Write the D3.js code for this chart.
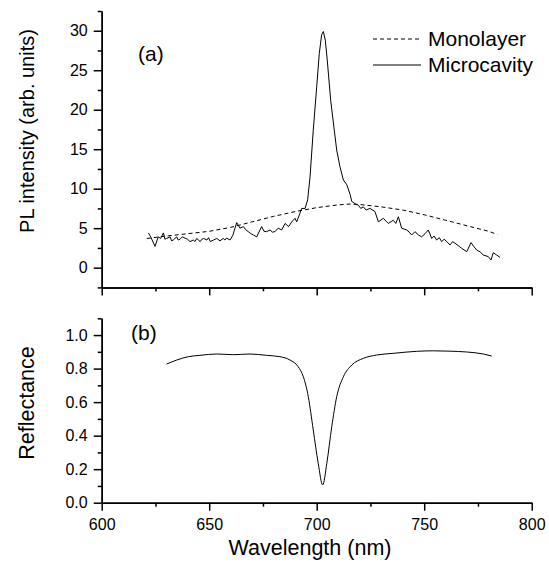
<!DOCTYPE html>
<html>
<head>
<meta charset="utf-8">
<script src="https://cdn.jsdelivr.net/npm/d3@7"></script>
<style>
  body { margin: 0; background: #fff; }
  svg { font-family: "Liberation Sans", Arial, sans-serif; }
  .axis path, .axis line { stroke: #000; stroke-width: 1.5; }
  .axis text { font-size: 16px; fill: #000; font-family: "Liberation Sans", Arial, sans-serif; }
</style>
</head>
<body>
<div id="chart"></div>
<script>

// data

const xTicks = [600, 650, 700, 750, 800]
const xMinorTicks = [625, 675, 725, 775]
const plTicks = [0, 5, 10, 15, 20, 25, 30]
const plMinorTicks = [-2.5, 2.5, 7.5, 12.5, 17.5, 22.5, 27.5, 32.5]
const rTicks = [0.0, 0.2, 0.4, 0.6, 0.8, 1.0]
const rMinorTicks = [0.1, 0.3, 0.5, 0.7, 0.9, 1.1]

const monoWl = [621, 630, 640, 650, 660, 670, 680, 690, 700, 710, 715, 720, 730, 740, 750, 760, 770, 780, 784]
const monoPL = [3.7, 4.0, 4.3, 4.6, 5.1, 5.8, 6.5, 7.1, 7.6, 7.95, 8.05, 8.0, 7.7, 7.3, 6.7, 6.0, 5.3, 4.6, 4.2]

const cavWl = [621.7, 622.8, 624.8, 626.3, 627.4, 628.7, 629.4, 630.2, 631.8, 632.5, 633.3, 634.9, 635.6, 636.4, 637.5,
  638.7, 639.9, 641.1, 642.6, 643.4, 644.2, 645.8, 646.6, 647.4, 648.9, 649.7, 650.5, 652, 653.5, 655, 656.5, 657.3,
  658.1, 659.7, 661, 662, 662.8, 664.3, 665.9, 667, 668.2, 669.4, 670.5, 672.1, 673.6, 674.4, 675.5, 676.7, 678.3,
  679.4, 680.6, 682.1, 683.7, 685.3, 686.9, 688.4, 689.9, 690.7, 692.2, 693, 694.6, 695.8,
  696.9, 698.4, 700, 701.2, 702.3, 703.1, 704, 704.9, 706.5, 708, 709.3, 710.8, 712.4, 714, 715.5, 716.3, 717.8,
  719.4, 720.5, 721.7, 723, 724.8, 727.1, 728.7, 731, 732.2, 733.3, 735.6, 736.8, 738, 739.5, 741.9, 743, 744.2,
  745.7, 747.3, 748.8, 750.4, 751.9, 753.5, 754.6, 755.8, 757, 758.1, 759.3, 760.5, 762, 763.2, 764.3, 765.8,
  767.4, 769.8, 771.8, 773, 774.4, 776, 777.5, 779.8, 781.1, 782.1, 783.7, 785.3]
const cavPL = [4.4, 3.9, 2.7, 3.9, 3.7, 4.4, 3.6, 3.7, 3.9, 3.4, 3.5, 3.9, 3.5, 3.6, 3.9,
  3.75, 3.6, 3.3, 3.5, 3.3, 3.7, 3.3, 3.6, 3.7, 3.5, 3.8, 3.3, 3.5, 3.7, 3.4, 3.7, 3.5,
  3.75, 3.5, 4.1, 5.0, 5.7, 5.0, 5.2, 4.8, 4.56, 4.3, 4.14, 3.9, 4.77, 5.2, 4.6, 4.56, 4.77,
  4.5, 4.56, 5.0, 4.77, 5.6, 5.2, 5.8, 6.25, 5.8, 6.9, 7.5, 7.5, 8.6,
  11.5, 17.4, 22.9, 27.1, 29.5, 29.9, 28.8, 26.3, 21.2, 17.8, 14.9, 12.8, 11.1, 10.5, 9.3, 8.4, 8.1,
  7.9, 7.5, 7.7, 7.3, 7.5, 7.1, 5.8, 6.25, 5.9, 5.6, 6.0, 5.6, 6.45, 5.0, 4.77, 4.5, 4.14,
  4.56, 4.14, 3.9, 4.3, 4.77, 3.7, 4.0, 3.5, 3.8, 3.3, 3.6, 3.3, 2.87, 3.3, 3.1, 2.8,
  2.45, 2.03, 3.17, 2.7, 2.24, 2.0, 1.6, 1.4, 0.97, 1.9, 1.6, 1.3]

const reflWl = [630.2, 634.9, 640.3, 645.7, 653.5, 661.2, 669, 676.7, 682.9, 687.6, 691.4, 693.8, 696.1, 698.4,
  700.7, 702.8, 704.7, 707, 709.3, 712.4, 716.3, 721.7, 727.9, 735.6, 746.5, 754.2, 762, 769.8, 777.5, 781.4]
const refl = [0.827, 0.851, 0.871, 0.879, 0.887, 0.883, 0.887, 0.879, 0.871, 0.851, 0.811, 0.751, 0.632, 0.434,
  0.235, 0.106, 0.235, 0.453, 0.632, 0.751, 0.821, 0.861, 0.881, 0.891, 0.903, 0.906, 0.904, 0.899, 0.887, 0.875]

const mono = monoWl.map((w, i) => ({ x: w, y: monoPL[i] }))
const cavity = cavWl.map((w, i) => ({ x: w, y: cavPL[i] }))
const reflectance = reflWl.map((w, i) => ({ x: w, y: refl[i] }))

// canvas

const width = 549
const height = 565

const svg = d3.select("#chart")
  .append("svg")
    .attr("width", width)
    .attr("height", height)

// scales

const xScale = d3.scaleLinear()
  .domain([600, 800])
  .range([101.7, 531.7])

const plScale = d3.scaleLinear()
  .domain([-2.5, 32.5])
  .range([287.4, 11])

const rScale = d3.scaleLinear()
  .domain([0, 1.1])
  .range([502.7, 318.3])

const lineFor = y => d3.line()
  .x(d => xScale(d.x))
  .y(d => y(d.y))

// axes

function drawAxes(yScale, yTicks, yMinor, yFormat, showXLabels) {
  const yBase = yScale.range()[0]

  svg.append("g")
    .attr("class", "axis")
    .attr("transform", `translate(${xScale.range()[0]},0)`)
    .call(d3.axisLeft(yScale).tickValues(yMinor).tickSize(4).tickSizeOuter(0).tickFormat(""))

  svg.append("g")
    .attr("class", "axis")
    .attr("transform", `translate(${xScale.range()[0]},0)`)
    .call(d3.axisLeft(yScale).tickValues(yTicks).tickSize(8).tickSizeOuter(0).tickPadding(6).tickFormat(yFormat))

  svg.append("g")
    .attr("class", "axis")
    .attr("transform", `translate(0,${yBase})`)
    .call(d3.axisBottom(xScale).tickValues(xMinorTicks).tickSize(4).tickSizeOuter(0).tickFormat(""))

  svg.append("g")
    .attr("class", "axis")
    .attr("transform", `translate(0,${yBase})`)
    .call(d3.axisBottom(xScale).tickValues(xTicks).tickSize(8).tickSizeOuter(0).tickPadding(8)
      .tickFormat(showXLabels ? d3.format("d") : ""))
}

drawAxes(plScale, plTicks, plMinorTicks, d3.format("d"), false)
drawAxes(rScale, rTicks, rMinorTicks, d3.format(".1f"), true)

// lines

svg.append("path")
  .datum(mono)
  .attr("d", lineFor(plScale))
  .attr("fill", "none")
  .attr("stroke", "#000")
  .attr("stroke-width", 1)
  .attr("stroke-dasharray", "4,3")

svg.append("path")
  .datum(cavity)
  .attr("d", lineFor(plScale))
  .attr("fill", "none")
  .attr("stroke", "#000")
  .attr("stroke-width", 1)

svg.append("path")
  .datum(reflectance)
  .attr("d", lineFor(rScale).curve(d3.curveMonotoneX))
  .attr("fill", "none")
  .attr("stroke", "#000")
  .attr("stroke-width", 1)

// labels

svg.append("text")
  .attr("x", 310)
  .attr("y", 555)
  .attr("text-anchor", "middle")
  .style("font-size", "21.5px")
  .text("Wavelength (nm)")

svg.append("text")
  .attr("transform", "translate(34,131) rotate(-90)")
  .attr("text-anchor", "middle")
  .style("font-size", "20px")
  .text("PL intensity (arb. units)")

svg.append("text")
  .attr("transform", "translate(34,403) rotate(-90)")
  .attr("text-anchor", "middle")
  .style("font-size", "21.5px")
  .text("Reflectance")

svg.append("text")
  .attr("x", 138)
  .attr("y", 61)
  .style("font-size", "21px")
  .text("(a)")

svg.append("text")
  .attr("x", 131)
  .attr("y", 340)
  .style("font-size", "21px")
  .text("(b)")

// legend

const legend = svg.append("g")
const legendItems = [
  { name: "Monolayer", dash: "4,3", y: 39 },
  { name: "Microcavity", dash: null, y: 65 }
]

legendItems.forEach(item => {
  legend.append("line")
    .attr("x1", 373)
    .attr("x2", 421)
    .attr("y1", item.y)
    .attr("y2", item.y)
    .attr("stroke", "#000")
    .attr("stroke-width", 1)
    .attr("stroke-dasharray", item.dash)

  legend.append("text")
    .attr("x", 428)
    .attr("y", item.y + 7)
    .style("font-size", "21px")
    .text(item.name)
})

</script>
</body>
</html>
